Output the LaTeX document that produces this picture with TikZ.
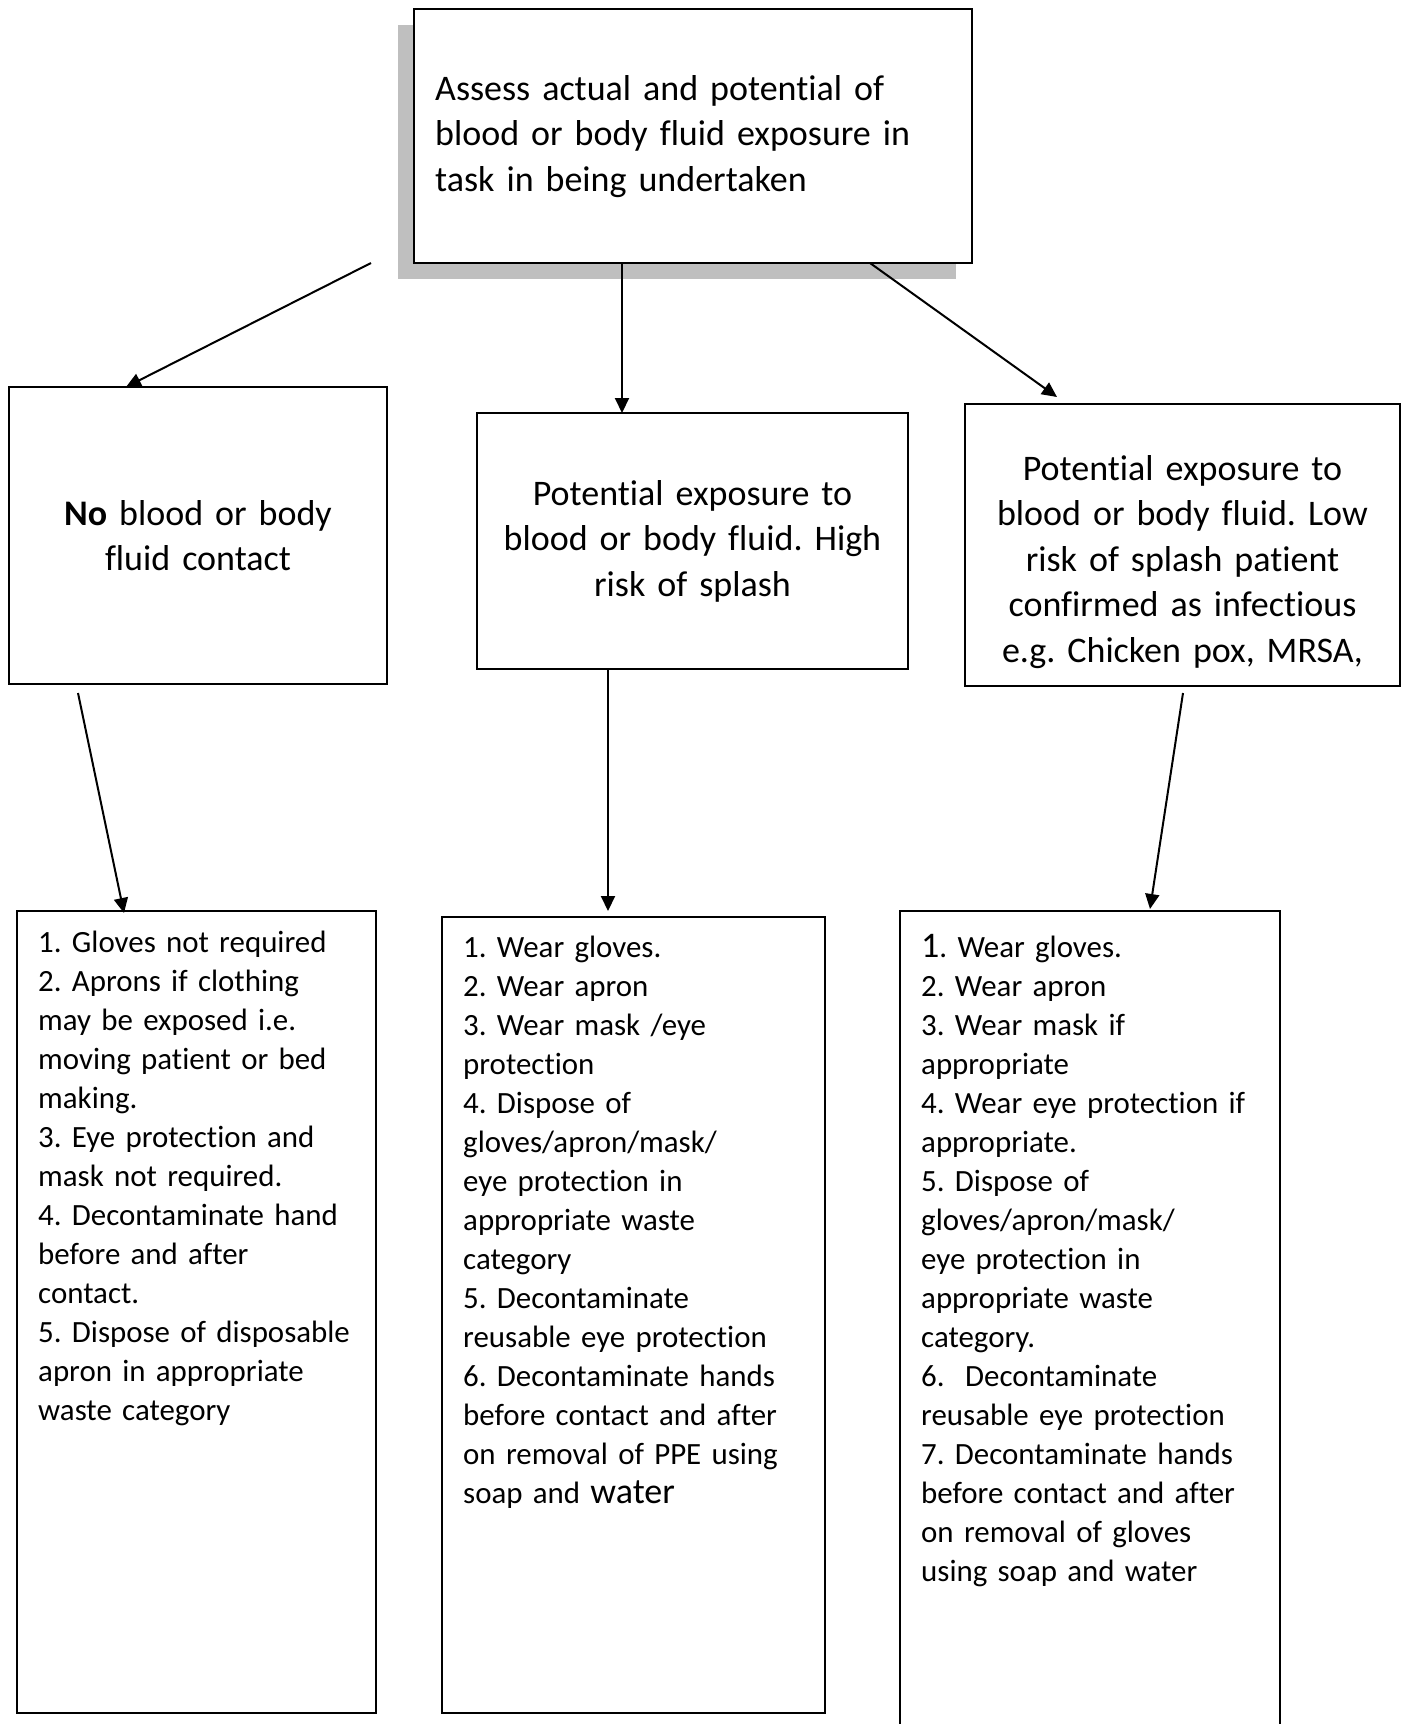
\documentclass[tikz,border=0pt]{standalone}
\usepackage{fontspec}
\setmainfont{Carlito}[Ligatures=NoCommon]
\usetikzlibrary{arrows.meta}
\definecolor{shadowgray}{RGB}{191,191,191}
\frenchspacing
\begin{document}
\begin{tikzpicture}[x=1pt,y=-1pt,
  box/.style={draw=black, line width=2pt, fill=white, inner sep=0pt, outer sep=0pt, anchor=north west},
  arr/.style={line width=2pt, -{Triangle[length=15pt,width=14pt]}},
  bigtxt/.style={font=\frenchspacing\fontsize{36}{45.5}\selectfont, inner sep=0pt},
  smalltxt/.style={font=\frenchspacing\fontsize{30.9}{39}\selectfont, inner sep=0pt, anchor=base west, text width=350pt, align=left},
  ]
\useasboundingbox (0,0) rectangle (1403,1724);
\clip (0,0) rectangle (1403,1724);
% top box with shadow
\fill[shadowgray] (398,25) rectangle (956,279);
\node[box, minimum width=558pt, minimum height=254pt] (top) at (414,9) {};
\node[bigtxt, anchor=base west, text width=540pt, align=left] (toptext) at (435,100)
  {Assess actual and potential of\\blood or body fluid exposure in\\task in being undertaken};
% middle row
\node[box, minimum width=378pt, minimum height=297pt] (lm) at (9,387) {};
\node[bigtxt, anchor=base, text width=370pt, align=center] (lmtext) at (198,525)
  {\textbf{No} blood or body\\fluid contact};
\node[box, minimum width=431pt, minimum height=256pt] (mm) at (477,413) {};
\node[bigtxt, anchor=base, text width=425pt, align=center] (mmtext) at (692.5,505)
  {Potential exposure to\\blood or body fluid. High\\risk of splash};
\node[box, minimum width=435pt, minimum height=282pt] (rm) at (965,404) {};
\node[bigtxt, anchor=base, text width=430pt, align=center] (rmtext) at (1182.5,480)
  {Potential exposure to\\blood or body fluid. Low\\risk of splash patient\\confirmed as infectious\\e.g. Chicken pox, MRSA,};
% bottom row
\node[box, minimum width=359pt, minimum height=802pt] (lb) at (17,911) {};
\node[smalltxt] (lbtext) at (38,952)
  {1. Gloves not required\\2. Aprons if clothing\\may be exposed i.e.\\moving patient or bed\\making.\\3. Eye protection and\\mask not required.\\4. Decontaminate hand\\before and after\\contact.\\5. Dispose of disposable\\apron in appropriate\\waste category};
\node[box, minimum width=383pt, minimum height=796pt] (mb) at (442,917) {};
\node[smalltxt] (mbtext) at (463,957)
  {1. Wear gloves.\\2. Wear apron\\3. Wear mask /eye\\protection\\4. Dispose of\\gloves/apron/mask/\\eye protection in\\appropriate waste\\category\\5. Decontaminate\\reusable eye protection\\6. Decontaminate hands\\before contact and after\\on removal of PPE using\\soap and {\fontsize{36}{39}\selectfont water}};
\node[box, minimum width=380pt, minimum height=840pt] (rb) at (900,911) {};
\node[smalltxt] (rbtext) at (921,957)
  {{\fontsize{36}{39}\selectfont 1}. Wear gloves.\\2. Wear apron\\3. Wear mask if\\appropriate\\4. Wear eye protection if\\appropriate.\\5. Dispose of\\gloves/apron/mask/\\eye protection in\\appropriate waste\\category.\\6.\ \ Decontaminate\\reusable eye protection\\7. Decontaminate hands\\before contact and after\\on removal of gloves\\using soap and water};
% connectors
\coordinate (s1) at (371,263); \coordinate (e1) at (126,387);
\coordinate (s2) at (622,263); \coordinate (e2) at (622,413);
\coordinate (s3) at (870,263); \coordinate (e3) at (1057,397);
\coordinate (s4) at (78,693);  \coordinate (e4) at (124,913);
\coordinate (s5) at (608,669); \coordinate (e5) at (608,911);
\coordinate (s6) at (1183,693); \coordinate (e6) at (1150,909);
\draw[arr] (s1) -- (e1);
\draw[arr] (s2) -- (e2);
\draw[arr] (s3) -- (e3);
\draw[arr] (s4) -- (e4);
\draw[arr] (s5) -- (e5);
\draw[arr] (s6) -- (e6);
\end{tikzpicture}
\end{document}
